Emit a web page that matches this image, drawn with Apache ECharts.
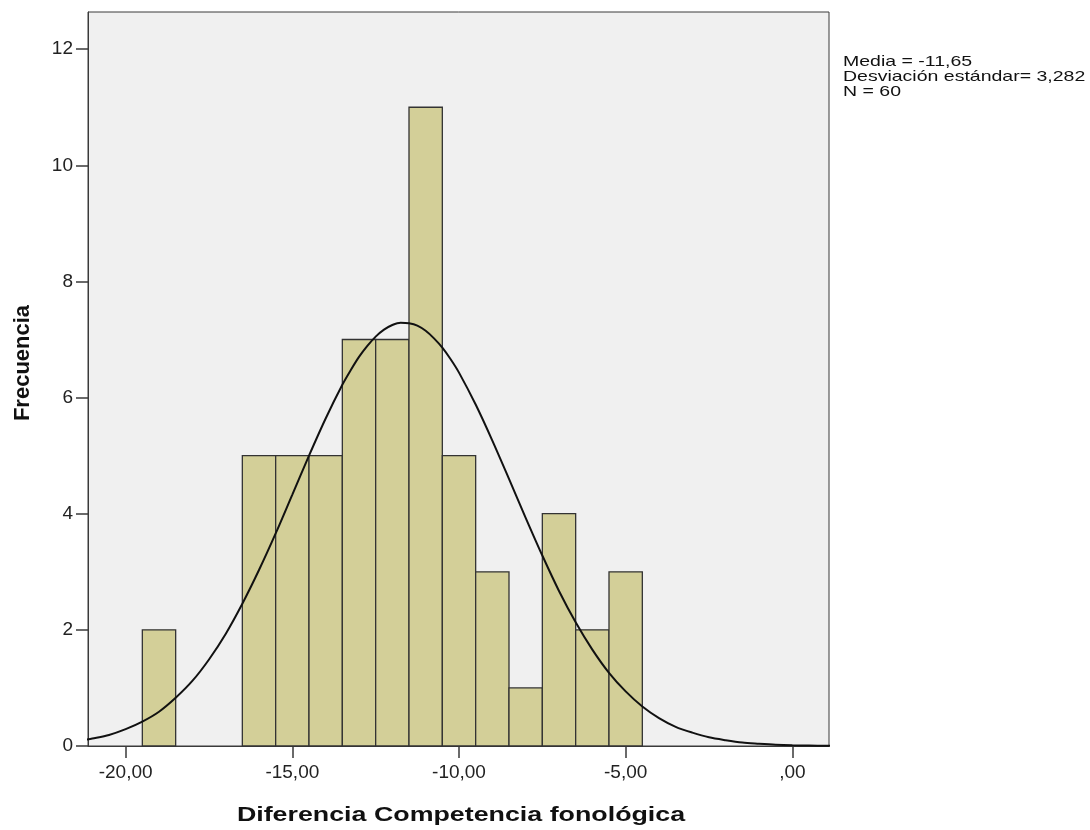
<!DOCTYPE html>
<html>
<head>
<meta charset="utf-8">
<title>Diferencia Competencia fonológica</title>
<script src="https://cdn.jsdelivr.net/npm/echarts@6/dist/echarts.min.js"></script>
<style>
  html, body { margin: 0; padding: 0; background: #ffffff; }
  #chart { width: 1090px; height: 830px; }
</style>
</head>
<body>
<div id="chart"></div>
<script>
// histogram bins (width 1) and counts
const binCenters = [-19, -16, -15, -14, -13, -12, -11, -10, -9, -8, -7, -6, -5];
const frequencies = [2, 5, 5, 5, 7, 7, 11, 5, 3, 1, 4, 2, 3];

// normal curve
const curveX = [
  -21.2, -21, -20.5, -20, -19.5, -19, -18.5, -18, -17.5, -17, -16.5, -16,
  -15.5, -15, -14.5, -14, -13.5, -13.25, -13, -12.75, -12.5, -12.25, -12,
  -11.75, -11.5, -11.25, -11, -10.75, -10.5, -10.25, -10,
  -9.5, -9, -8.5, -8, -7.5, -7, -6.5, -6, -5.5, -5, -4.5, -4, -3.5, -3,
  -2.5, -2, -1.5, -1, -0.5, 0, 0.5, 1, 1.2,
];
const curveY = [
  0.11, 0.13, 0.19, 0.29, 0.42, 0.59, 0.83, 1.12, 1.49, 1.93, 2.45, 3.03,
  3.66, 4.33, 5.0, 5.64, 6.22, 6.47, 6.70, 6.89, 7.05, 7.17, 7.25,
  7.29, 7.28, 7.24, 7.15, 7.02, 6.86, 6.66, 6.43,
  5.88, 5.26, 4.60, 3.93, 3.28, 2.67, 2.13, 1.66, 1.26, 0.94, 0.68, 0.48, 0.33, 0.23,
  0.15, 0.10, 0.06, 0.04, 0.023, 0.013, 0.008, 0.004, 0.003,
];

const xTickValues = [-20, -15, -10, -5, 0];
const yTickValues = [0, 2, 4, 6, 8, 10, 12];

const statsLines = ["Media = -11,65", "Desviación estándar= 3,282", "N = 60"];

const chart = echarts.init(document.getElementById("chart"));

const fontFamily = '"Liberation Sans", Arial, sans-serif';
const axisColor = "#3a3a3a";

const option = {
  backgroundColor: "#ffffff",
  animation: false,
  grid: {
    left: 88,
    top: 12,
    width: 741,
    height: 734,
    show: true,
    backgroundColor: "#f0f0f0",
    borderColor: axisColor,
    borderWidth: 1,
  },
  xAxis: {
    type: "value",
    min: -21.13,
    max: 1.1,
    axisLine: { show: true, onZero: false, lineStyle: { color: axisColor, width: 1 } },
    axisTick: {
      show: true,
      length: 12,
      customValues: xTickValues,
      lineStyle: { color: axisColor, width: 1.5 },
    },
    axisLabel: {
      customValues: xTickValues,
      margin: 17,
      fontSize: 19,
      fontFamily: fontFamily,
      color: "#222",
      formatter: function (v) {
        if (v === 0) return ",00";
        return v.toFixed(2).replace(".", ",");
      },
    },
    splitLine: { show: false },
  },
  yAxis: {
    type: "value",
    min: 0,
    max: 12.64,
    axisLine: { show: true, onZero: false, lineStyle: { color: axisColor, width: 1 } },
    axisTick: {
      show: true,
      length: 12,
      customValues: yTickValues,
      lineStyle: { color: axisColor, width: 1.5 },
    },
    axisLabel: {
      customValues: yTickValues,
      margin: 15,
      fontSize: 19,
      fontFamily: fontFamily,
      color: "#222",
    },
    splitLine: { show: false },
  },
  series: [
    {
      name: "Frecuencia",
      type: "custom",
      data: binCenters.map((c, i) => [c, frequencies[i]]),
      renderItem: function (params, api) {
        const x = api.value(0);
        const n = api.value(1);
        const p0 = api.coord([x - 0.5, 0]);
        const p1 = api.coord([x + 0.5, n]);
        return {
          type: "rect",
          shape: { x: p0[0], y: p1[1], width: p1[0] - p0[0], height: p0[1] - p1[1] },
          style: { fill: "#d3cf98", stroke: "#333333", lineWidth: 1.3 },
        };
      },
      z: 2,
    },
    {
      name: "Normal",
      type: "line",
      data: curveX.map((x, i) => [x, curveY[i]]),
      smooth: 0.3,
      symbol: "none",
      lineStyle: { color: "#111111", width: 2 },
      z: 3,
    },
  ],
  graphic: [
    {
      type: "text",
      x: 843,
      y: 54,
      scaleX: 1.3,
      style: {
        text: statsLines.join("\n"),
        font: '15px "Liberation Sans", Arial, sans-serif',
        fill: "#111",
        lineHeight: 15,
      },
    },
    {
      type: "text",
      x: 461,
      y: 815,
      scaleX: 1.34,
      style: {
        text: "Diferencia Competencia fonológica",
        font: 'bold 20px "Liberation Sans", Arial, sans-serif',
        fill: "#111",
        textAlign: "center",
        textVerticalAlign: "middle",
      },
    },
    {
      type: "text",
      x: 23,
      y: 363,
      rotation: Math.PI / 2,
      style: {
        text: "Frecuencia",
        font: 'bold 22px "Liberation Sans", Arial, sans-serif',
        fill: "#111",
        textAlign: "center",
        textVerticalAlign: "middle",
      },
    },
  ],
};

chart.setOption(option);

window.addEventListener("resize", () => {
  chart.resize();
});
</script>
</body>
</html>
